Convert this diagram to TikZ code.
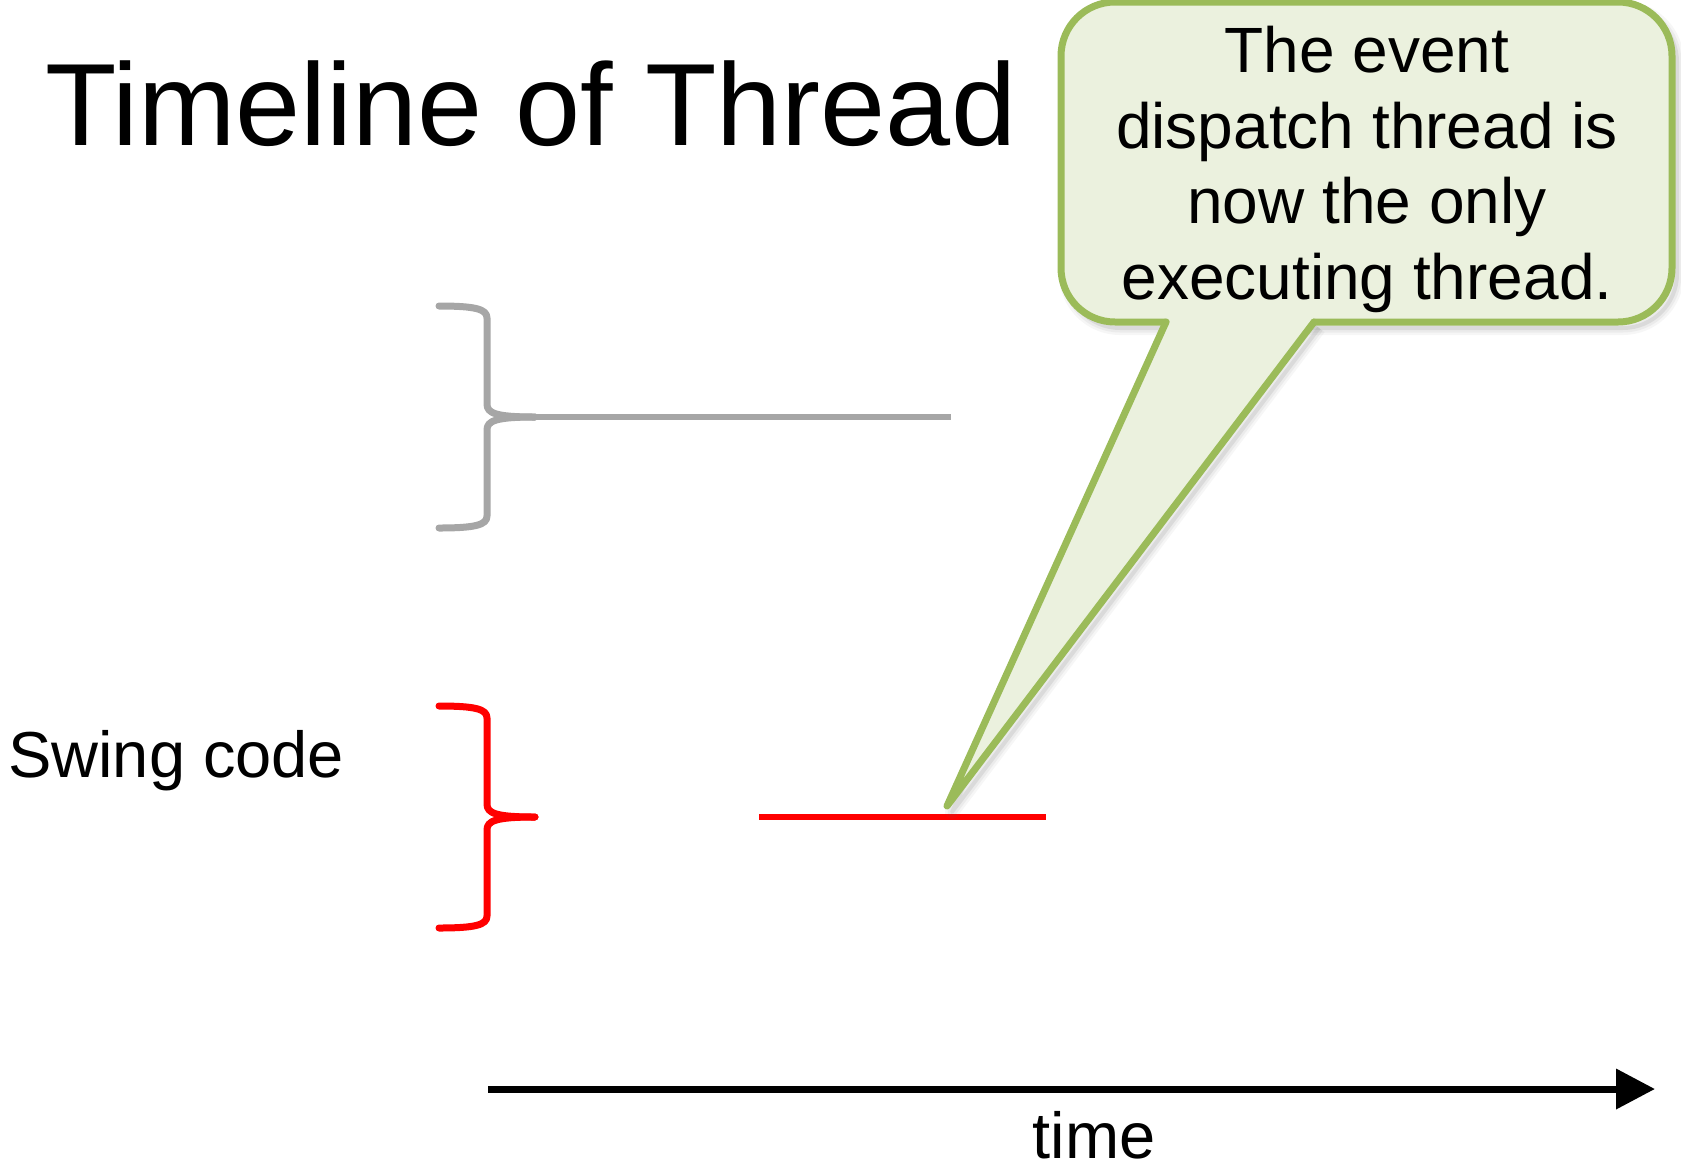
\documentclass[tikz,border=0pt]{standalone}
\usepackage{fontspec}
\setmainfont{Liberation Sans}
\usetikzlibrary{arrows.meta}
\definecolor{bracegray}{HTML}{A6A6A6}
\definecolor{notefill}{HTML}{EBF1DE}
\definecolor{noteline}{HTML}{9BBB59}
\begin{document}
\begin{tikzpicture}[x=1pt,y=-1pt,
  bracestroke/.style={line width=7pt,line cap=round,line join=round},
  threadline/.style={line width=6.5pt},
  label/.style={inner sep=0pt,font=\fontsize{65}{70}\selectfont},
  notetext/.style={inner sep=0pt,align=center,font=\fontsize{64}{75.5}\selectfont},
  noteborder/.style={draw=noteline,line width=7pt,line cap=round,line join=round},
  pics/tlbrace/.style={code={
    \draw[pic actions]
      (-96,-111) .. controls (-60,-111) and (-48,-108) .. (-48,-99)
      -- (-48,-13) .. controls (-48,-4) and (-40,0) .. (0,0);
    \draw[pic actions]
      (0,0) .. controls (-40,0) and (-48,4) .. (-48,13)
      -- (-48,99) .. controls (-48,108) and (-60,111) .. (-96,111);
  }}]
\useasboundingbox (0,0) rectangle (1681,1168);

% title
\node[inner sep=0pt,anchor=base west,font=\fontsize{117}{120}\selectfont]
  (title) at (45,145) {Timeline of Thread};

% upper (gray) thread
\coordinate (graytip) at (535,417);
\coordinate (grayend) at (951,417);
\pic[bracestroke,bracegray] at (graytip) {tlbrace};
\draw[threadline,bracegray] (graytip) -- (grayend);

% Swing code thread
\node[label,anchor=base west] (swing) at (8,777) {Swing code};
\coordinate (redtip) at (535,817);
\pic[bracestroke,red] at (redtip) {tlbrace};
\coordinate (redstart) at (759,817);
\coordinate (redend) at (1046,817);
\draw[threadline,red] (redstart) -- (redend);

% time axis
\coordinate (tstart) at (488,1089);
\coordinate (tend) at (1655,1089);
\draw[line width=7pt,-{Triangle[length=39pt,width=39pt]}] (tstart) -- (tend);
\node[label,anchor=base] (time) at (1094,1158) {time};

% callout
\coordinate (pointer) at (947,806);
\begin{scope}[shift={(5,6)}]
  \foreach \w/\o in {14/0.06,9/0.08,4/0.12}{
    \draw[black!60,opacity=\o,line width=\w pt,line join=round]
      [rounded corners=54pt] (1061,2) rectangle (1672,322);
    \draw[black!60,opacity=\o,line width=\w pt,line join=round]
      (1166,322) -- (947,806) -- (1314,322);
  }
\end{scope}
\fill[notefill] [rounded corners=54pt] (1061,2) rectangle (1672,322);
\fill[notefill] (1166,322) -- (pointer) -- (1314,322) -- cycle;
\draw[noteborder] [rounded corners=54pt]
  (1314,322) -- (1672,322) -- (1672,2) -- (1061,2) -- (1061,322) -- (1166,322);
\draw[noteborder] (1166,322) -- (pointer) -- (1314,322);
\node[notetext,anchor=north] (note) at (1367,26)
  {The event\\dispatch thread is\\now the only\\executing thread.};
\end{tikzpicture}
\end{document}
